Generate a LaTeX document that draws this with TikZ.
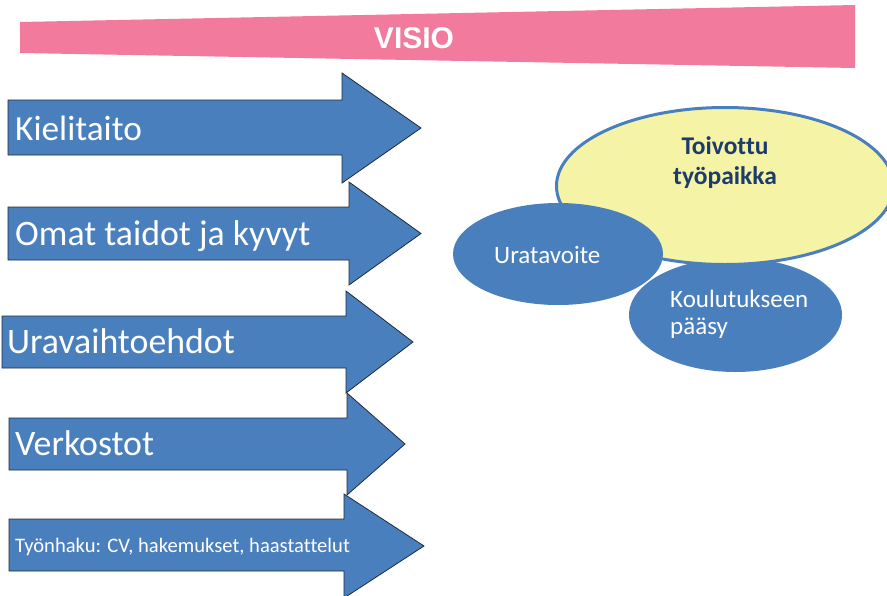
\documentclass[tikz,border=0pt]{standalone}
\usepackage{fontspec}
\setmainfont{Carlito}[Ligatures=CommonOff]
\newfontfamily\visiofont{Liberation Sans}
\usetikzlibrary{shapes.geometric}
\definecolor{arrowblue}{HTML}{4A7FBE}
\definecolor{arrowline}{HTML}{1E2A3A}
\definecolor{visiopink}{HTML}{F27A9C}
\definecolor{goalyellow}{HTML}{F5F3A6}
\definecolor{goaltext}{HTML}{1C3D6C}
\tikzset{
  bigarrow/.style={fill=arrowblue, draw=arrowline, line width=0.8pt, line join=miter},
  arrowtext/.style={anchor=base west, inner sep=0pt, text=white, font=\fontsize{35.8}{40}\selectfont},
  blueoval/.style={ellipse, fill=arrowblue, draw=none, inner sep=0pt},
  ovaltext/.style={anchor=base west, inner sep=0pt, text=white, font=\fontsize{25}{30}\selectfont},
  goalline/.style={anchor=base, inner sep=0pt, text=goaltext, font=\bfseries\fontsize{25.5}{30}\selectfont},
}
\newcommand\myarrow[7]{%
  \path[bigarrow] (#1,#2) -- (#4,#2) -- (#4,#5) -- (#7,{(#5+#6)/2}) -- (#4,#6) -- (#4,#3) -- (#1,#3) -- cycle;}
\begin{document}
\begin{tikzpicture}[x=1pt,y=-1pt]
\useasboundingbox (0,0) rectangle (887,595);
% banner
\path[fill=visiopink] (20,22) -- (855,5) -- (855,68) -- (20,53) -- cycle;
\node[text=white, font=\visiofont\bfseries\fontsize{30}{34}\selectfont, inner sep=0pt] (visio) at (414,38) {VISIO};
% arrows
\myarrow{8}{100}{155}{342}{73}{183}{421}
\node[arrowtext, font=\fontsize{35.3}{40}\selectfont] (kieli) at (15,140) {Kielitaito};
\myarrow{8}{207}{260}{349}{182}{285}{421}
\node[arrowtext] (omat) at (15,245) {Omat taidot ja kyvyt};
\myarrow{2}{316}{368}{346}{291}{393}{413}
\node[arrowtext] (ura) at (7,353) {Uravaihtoehdot};
\myarrow{9}{418}{470}{347}{393}{495}{405}
\node[arrowtext] (verk) at (15,455) {Verkostot};
\myarrow{9}{519}{571}{344}{494}{598}{424}
\node[arrowtext, font=\fontsize{20.6}{24}\selectfont] (tyon) at (15,552) {Työnhaku: CV, hakemukset, haastattelut};
% ovals
\node[blueoval, minimum width=213pt, minimum height=114pt] (koul) at (735.5,315) {};
\node[ellipse, fill=goalyellow, draw=arrowblue, line width=3pt, minimum width=337pt, minimum height=157pt, inner sep=0pt] (goal) at (725,186) {};
\node[blueoval, minimum width=210pt, minimum height=102pt] (urat) at (558,254) {};
\node[goalline] (goal1) at (725,154) {Toivottu};
\node[goalline] (goal2) at (725,184) {työpaikka};
\node[ovaltext] (urattxt) at (494,263) {Uratavoite};
\node[ovaltext] (koul1) at (670,307) {Koulutukseen};
\node[ovaltext] (koul2) at (670,334) {pääsy};
\end{tikzpicture}
\end{document}
